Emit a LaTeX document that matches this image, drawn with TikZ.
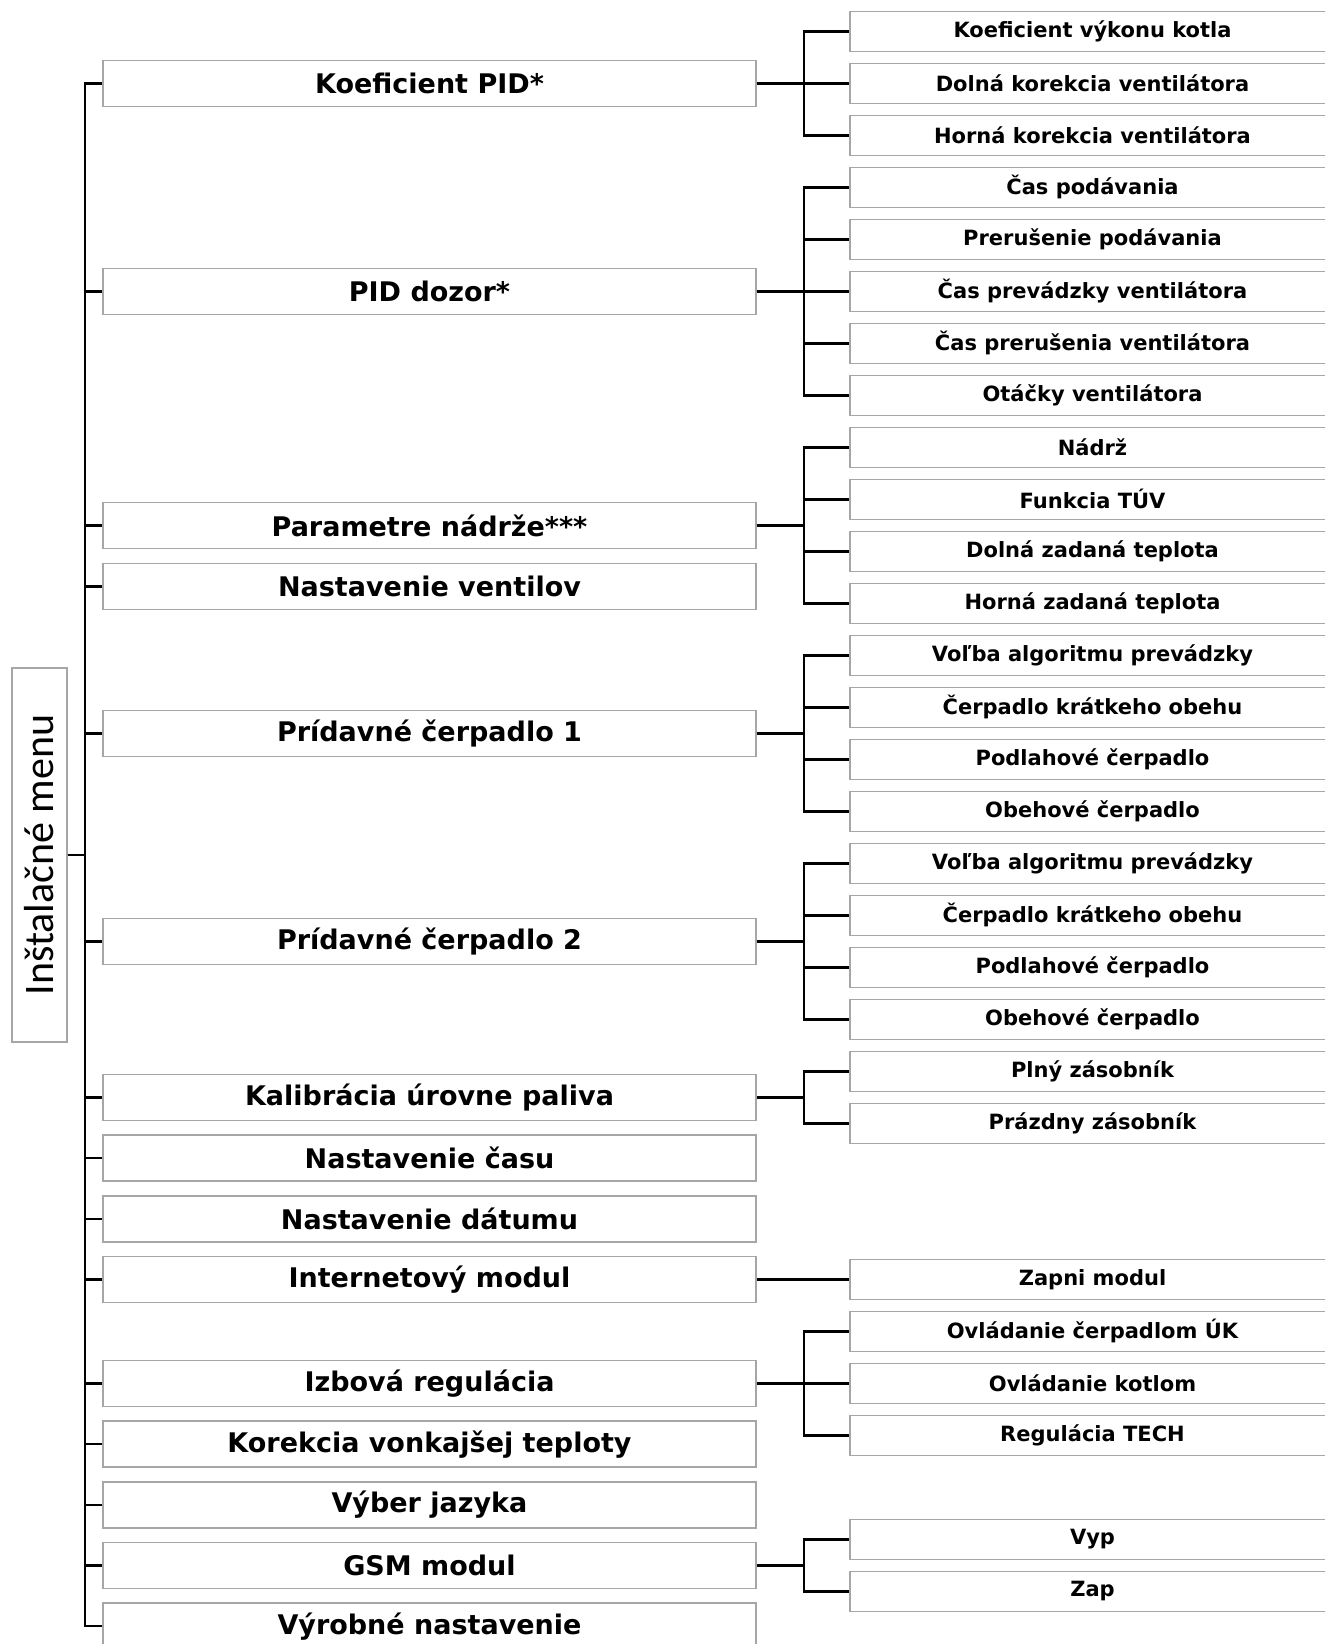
\documentclass[tikz,border=0pt]{standalone}
\usepackage{fontspec}
\setmainfont{DejaVu Sans}
\newfontfamily\rootfont{Carlito}
\tikzset{
	menubox/.style={draw=gray!70,line width=0.8pt,fill=white,inner sep=0pt,
		minimum width=326.5pt,minimum height=23pt,font=\fontsize{13.5}{16}\selectfont\bfseries},
	subbox/.style={draw=gray!70,line width=0.8pt,fill=white,inner sep=0pt,
		minimum width=242.5pt,minimum height=20pt,font=\fontsize{10.5}{12}\selectfont\bfseries},
	conn/.style={black,line width=1.2pt},
}

\begin{document}
\begin{tikzpicture}[x=0.5pt,y=-0.5pt]
	\useasboundingbox (0,0) rectangle (1325,1644);
	% root
	\node[draw=gray!70,line width=0.8pt,rotate=90,inner sep=0pt,minimum width=187pt,minimum height=27.5pt,
		font=\rootfont\fontsize{21}{24}\selectfont] (root) at (39.5,855) {Inštalačné menu};
	% menu items
	\node[menubox] (kpid) at (429.5,83.4) {Koeficient PID*};
	\node[menubox] (pdoz) at (429.5,291.4) {PID dozor*};
	\node[menubox] (parn) at (429.5,525.4) {Parametre nádrže***};
	\node[menubox] (nven) at (429.5,586.4) {Nastavenie ventilov};
	\node[menubox] (cer1) at (429.5,733.4) {Prídavné čerpadlo 1};
	\node[menubox] (cer2) at (429.5,941.4) {Prídavné čerpadlo 2};
	\node[menubox] (kal) at (429.5,1097.4) {Kalibrácia úrovne paliva};
	\node[menubox] (ncas) at (429.5,1158.2) {Nastavenie času};
	\node[menubox] (ndat) at (429.5,1218.8) {Nastavenie dátumu};
	\node[menubox] (inet) at (429.5,1279.4) {Internetový modul};
	\node[menubox] (izba) at (429.5,1383.4) {Izbová regulácia};
	\node[menubox] (kvt) at (429.5,1444.1) {Korekcia vonkajšej teploty};
	\node[menubox] (jaz) at (429.5,1504.9) {Výber jazyka};
	\node[menubox] (gsm) at (429.5,1565.4) {GSM modul};
	\node[menubox] (vyr) at (429.5,1626.2) {Výrobné nastavenie};
	% sub items
	\foreach \i/\t in {0/Koeficient výkonu kotla,1/Dolná korekcia ventilátora,2/Horná korekcia ventilátora,
		3/Čas podávania,4/Prerušenie podávania,5/Čas prevádzky ventilátora,6/Čas prerušenia ventilátora,
		7/Otáčky ventilátora,8/Nádrž,9/Funkcia TÚV,10/Dolná zadaná teplota,11/Horná zadaná teplota,
		12/Voľba algoritmu prevádzky,13/Čerpadlo krátkeho obehu,14/Podlahové čerpadlo,15/Obehové čerpadlo,
		16/Voľba algoritmu prevádzky,17/Čerpadlo krátkeho obehu,18/Podlahové čerpadlo,19/Obehové čerpadlo,
		20/Plný zásobník,21/Prázdny zásobník,24/Zapni modul,25/Ovládanie čerpadlom ÚK,
		26/Ovládanie kotlom,27/Regulácia TECH,29/Vyp,30/Zap}
		\node[subbox] (s\i) at (1092.5,{31.4+52*\i}) {\t};
	% trunk
	\foreach \m in {kpid,pdoz,parn,nven,cer1,cer2,kal,ncas,ndat,inet,izba,kvt,jaz,gsm,vyr}
		\draw[conn] (root.south) -- ++(17,0) |- (\m.west);
	% branches
	\foreach \p/\c in {kpid/0,kpid/1,kpid/2,pdoz/3,pdoz/4,pdoz/5,pdoz/6,pdoz/7,
		parn/8,parn/9,parn/10,parn/11,cer1/12,cer1/13,cer1/14,cer1/15,
		cer2/16,cer2/17,cer2/18,cer2/19,kal/20,kal/21,inet/24,izba/25,izba/26,izba/27,gsm/29,gsm/30}
		\draw[conn] (\p.east) -- ++(47,0) |- (s\c.west);
\end{tikzpicture}
\end{document}
